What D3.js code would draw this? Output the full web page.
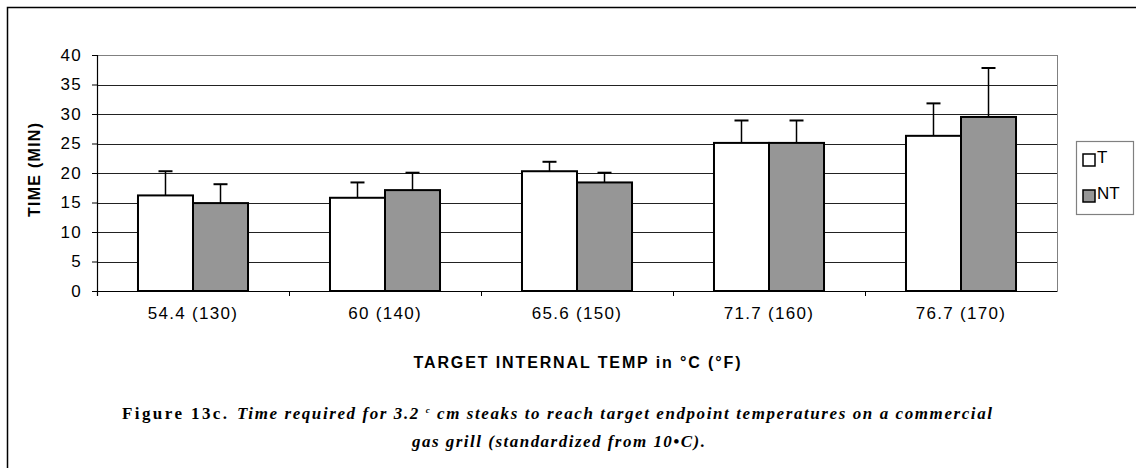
<!DOCTYPE html>
<html>
<head>
<meta charset="utf-8">
<script src="https://cdn.jsdelivr.net/npm/d3@7"></script>
<style>
  body { margin: 0; background: #fff; }
  svg text { font-family: Arial, "Liberation Sans", sans-serif; }
  .tick text { font-size: 17px; fill: #000; letter-spacing: 1.3px; }
  .cap { font-family: "Liberation Serif", "Times New Roman", serif !important; font-weight: bold; }
</style>
</head>
<body>
<svg id="chart" width="1136" height="468"></svg>
<script>
var categories = ["54.4 (130)", "60 (140)", "65.6 (150)", "71.7 (160)", "76.7 (170)"];
var seriesNames = ["T", "NT"];
var valuesT = [16.2, 15.8, 20.3, 25.1, 26.3];
var valuesNT = [14.9, 17.1, 18.4, 25.1, 29.5];
var errT = [4.1, 2.6, 1.6, 3.8, 5.5];
var errNT = [3.2, 2.95, 1.65, 3.8, 8.3];
var yTicks = [0, 5, 10, 15, 20, 25, 30, 35, 40];
var colors = ["#ffffff", "#969696"];

function drawChart() {
    var svg = d3.select("#chart");
    var margin = {left: 97, top: 55, right: 1057, bottom: 291};

    // outer frame
    svg.append("rect")
        .attr("x", 7.5).attr("y", 7.5)
        .attr("width", 1140).attr("height", 470)
        .attr("fill", "none").attr("stroke", "#000").attr("stroke-width", 1.5);

    var x = d3.scaleBand()
        .domain(categories)
        .range([margin.left, margin.right]);

    var x1 = d3.scaleBand()
        .domain(seriesNames)
        .range([0, x.bandwidth()])
        .paddingInner(0)
        .paddingOuter(0.745);

    var y = d3.scaleLinear()
        .domain([0, 40])
        .range([margin.bottom, margin.top]);

    // grid lines
    svg.append("g").selectAll("line")
        .data(yTicks.filter(function(d) { return d > 0; }))
        .enter().append("line")
        .attr("x1", margin.left).attr("x2", margin.right)
        .attr("y1", function(d) { return Math.round(y(d)) + 0.5; })
        .attr("y2", function(d) { return Math.round(y(d)) + 0.5; })
        .attr("stroke", function(d) { return d == 40 ? "#808080" : "#222"; })
        .attr("stroke-width", 1);

    // right border of plot area
    svg.append("line")
        .attr("x1", margin.right + 0.5).attr("x2", margin.right + 0.5)
        .attr("y1", margin.top).attr("y2", margin.bottom)
        .attr("stroke", "#808080");

    var data = categories.map(function(c, i) {
        return {cat: c, vals: [
            {name: "T", v: valuesT[i], e: errT[i]},
            {name: "NT", v: valuesNT[i], e: errNT[i]}
        ]};
    });

    var groups = svg.append("g").selectAll("g")
        .data(data)
        .enter().append("g")
        .attr("transform", function(d) { return "translate(" + x(d.cat) + ",0)"; });

    var bars = groups.selectAll("g")
        .data(function(d) { return d.vals; })
        .enter().append("g");

    // error bars (drawn first, bars cover the lower half)
    bars.append("line")
        .attr("x1", function(d) { return x1(d.name) + x1.bandwidth() / 2; })
        .attr("x2", function(d) { return x1(d.name) + x1.bandwidth() / 2; })
        .attr("y1", function(d) { return y(d.v); })
        .attr("y2", function(d) { return y(d.v + d.e); })
        .attr("stroke", "#000").attr("stroke-width", 1.5);
    bars.append("line")
        .attr("x1", function(d) { return x1(d.name) + x1.bandwidth() / 2 - 7; })
        .attr("x2", function(d) { return x1(d.name) + x1.bandwidth() / 2 + 7; })
        .attr("y1", function(d) { return y(d.v + d.e); })
        .attr("y2", function(d) { return y(d.v + d.e); })
        .attr("stroke", "#000").attr("stroke-width", 2);

    bars.append("rect")
        .attr("x", function(d) { return x1(d.name); })
        .attr("y", function(d) { return y(d.v); })
        .attr("width", x1.bandwidth())
        .attr("height", function(d) { return y(0) - y(d.v); })
        .attr("fill", function(d, i) { return colors[i]; })
        .attr("stroke", "#000").attr("stroke-width", 2);

    // y axis
    var yAxis = svg.append("g")
        .attr("transform", "translate(" + margin.left + ",0)")
        .call(d3.axisLeft(y).tickValues(yTicks).tickSize(5).tickPadding(10));
    yAxis.select(".domain").attr("stroke", "#000").attr("stroke-width", 1.2).attr("d", "M0.5," + margin.top + "V" + (margin.bottom + 5));
    yAxis.selectAll(".tick line").attr("stroke", "#000");

    // x axis
    var xAxis = svg.append("g")
        .attr("transform", "translate(0," + margin.bottom + ")")
        .call(d3.axisBottom(x).tickSize(0).tickPadding(23));
    xAxis.select(".domain").attr("stroke", "#000").attr("stroke-width", 1.2);
    xAxis.selectAll(".tick text").attr("dy", "0.3em");
    svg.append("g").selectAll("line")
        .data(categories.slice(1))
        .enter().append("line")
        .attr("x1", function(d) { return Math.round(x(d)) + 0.5; })
        .attr("x2", function(d) { return Math.round(x(d)) + 0.5; })
        .attr("y1", margin.bottom).attr("y2", margin.bottom + 5)
        .attr("stroke", "#000");

    // axis titles
    svg.append("text")
        .attr("transform", "translate(40," + ((margin.top + margin.bottom) / 2 - 3) + ") rotate(-90)")
        .attr("text-anchor", "middle")
        .attr("font-weight", "bold")
        .attr("font-size", 16)
        .attr("textLength", 94)
        .text("TIME (MIN)");

    svg.append("text")
        .attr("x", (margin.left + margin.right) / 2)
        .attr("y", 368)
        .attr("text-anchor", "middle")
        .attr("font-weight", "bold")
        .attr("font-size", 16)
        .attr("textLength", 327)
        .text("TARGET INTERNAL TEMP in °C (°F)");

    // legend
    var legend = svg.append("g").attr("transform", "translate(1076,141)");
    legend.append("rect")
        .attr("x", 0.5).attr("y", 0.5).attr("width", 57).attr("height", 73)
        .attr("fill", "#fff").attr("stroke", "#808080").attr("stroke-width", 1.2);
    var items = legend.selectAll("g.item")
        .data(seriesNames)
        .enter().append("g")
        .attr("class", "item")
        .attr("transform", function(d, i) { return "translate(7," + (13 + i * 36) + ")"; });
    items.append("rect")
        .attr("width", 12).attr("height", 12)
        .attr("fill", function(d, i) { return colors[i]; })
        .attr("stroke", "#000").attr("stroke-width", 1.5);
    items.append("text")
        .attr("x", 14).attr("y", 9)
        .attr("font-size", 17)
        .text(function(d) { return d; });

    // caption
    svg.append("text")
        .attr("class", "cap")
        .attr("x", 122).attr("y", 419)
        .attr("font-size", 17)
        .attr("textLength", 105)
        .text("Figure 13c.");

    var line1 = svg.append("text")
        .attr("class", "cap")
        .attr("x", 237).attr("y", 419)
        .attr("font-size", 17)
        .attr("font-style", "italic")
        .attr("textLength", 755);
    line1.append("tspan").text("Time required for 3.2 ");
    line1.append("tspan").attr("font-size", 9).attr("dy", -6).text("c");
    line1.append("tspan").attr("dy", 6).text("  cm steaks to reach target endpoint temperatures on a commercial");

    svg.append("text")
        .attr("class", "cap")
        .attr("x", 412).attr("y", 447)
        .attr("font-size", 17)
        .attr("font-style", "italic")
        .attr("textLength", 293)
        .text("gas grill (standardized from 10\u2022C).");
}

drawChart();
</script>
</body>
</html>
